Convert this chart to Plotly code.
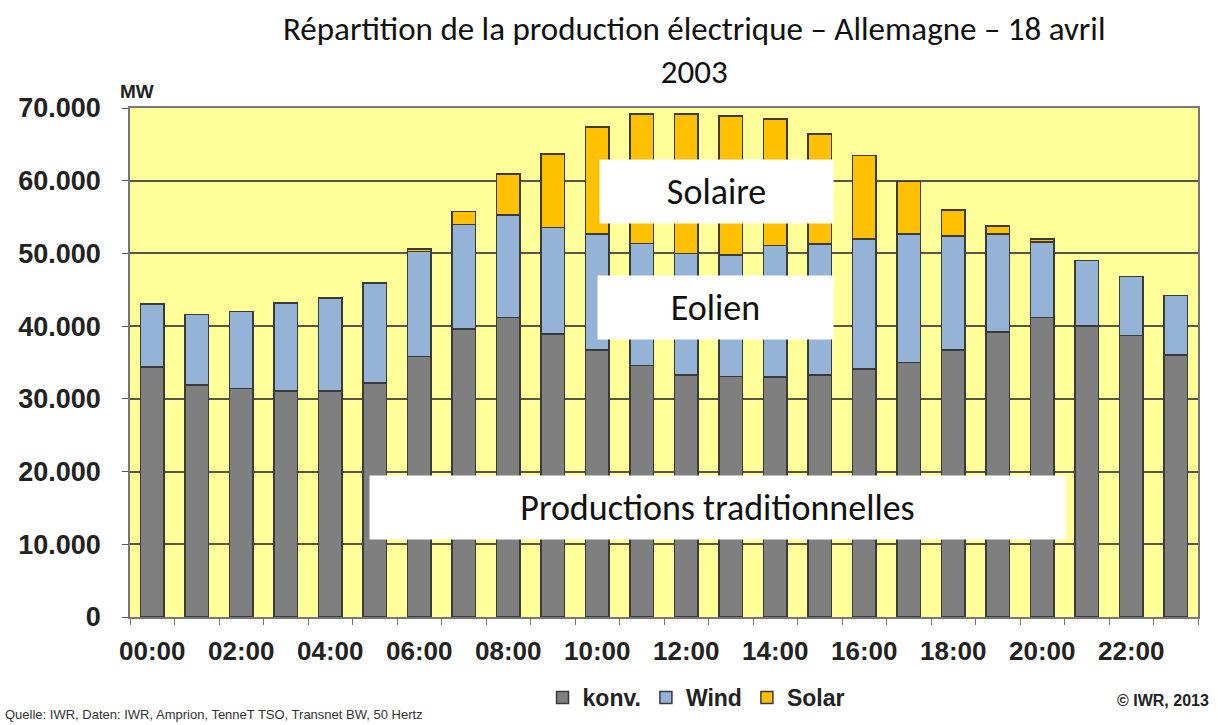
import plotly.graph_objects as go

hours = list(range(24))
tick_positions = [0, 2, 4, 6, 8, 10, 12, 14, 16, 18, 20, 22]
tick_labels = ["00:00", "02:00", "04:00", "06:00", "08:00", "10:00",
               "12:00", "14:00", "16:00", "18:00", "20:00", "22:00"]

konv = [34400, 31900, 31450, 31100, 31100, 32200, 35800, 39600, 41200, 38900, 36700, 34600,
        33300, 33100, 33000, 33300, 34100, 35000, 36700, 39200, 41200, 40000, 38700, 36000]
wind = [8650, 9700, 10550, 12100, 12800, 13700, 14500, 14400, 14100, 14700, 16000, 16800,
        16700, 16700, 18100, 18000, 17900, 17700, 15700, 13500, 10400, 9000, 8100, 8200]
solar = [0, 0, 0, 0, 0, 0, 300, 1800, 5600, 10100, 14700, 17800,
         19200, 19100, 17400, 15100, 11500, 7200, 3600, 1100, 400, 0, 0, 0]

y_ticks = [0, 10000, 20000, 30000, 40000, 50000, 60000, 70000]

title_text = "Répartition de la production électrique – Allemagne – 18 avril<br>2003"
source_text = "Quelle: IWR, Daten: IWR, Amprion, TenneT TSO, Transnet BW, 50 Hertz"
copyright_text = "© IWR, 2013"

outline = dict(color="#3a3a3a", width=1.5)
fig = go.Figure()
fig.add_trace(go.Bar(x=hours, y=konv, name="konv.", marker=dict(color="#7f7f7f", line=outline)))
fig.add_trace(go.Bar(x=hours, y=wind, name="Wind", marker=dict(color="#95b3d7", line=outline)))
fig.add_trace(go.Bar(x=hours, y=solar, name="Solar", marker=dict(color="#ffc000", line=outline)))

bold_font = "Liberation Sans"
text_font = "Carlito, Lato, Open Sans, sans-serif"
PH = 509.0  # plot height in px

fig.update_layout(
    width=1218, height=725,
    barmode="stack", bargap=0.48,
    separators=",.",
    paper_bgcolor="white", plot_bgcolor="#ffff99",
    margin=dict(l=130, r=20, t=108, b=108, autoexpand=False),
    legend=dict(orientation="h", x=0.53, xanchor="center", y=-(676 - 617) / PH, yanchor="top",
                traceorder="normal",
                font=dict(family=bold_font, size=23, color="#222", weight="bold"),
                itemwidth=30, tracegroupgap=0),
    showlegend=True,
)
fig.update_xaxes(range=[-0.5, 23.5], tickmode="array", tickvals=tick_positions, ticktext=tick_labels,
                 tickfont=dict(family=bold_font, size=26, color="#222", weight="bold"),
                 ticks="", ticklabelstandoff=10,
                 showgrid=False, showline=True, linecolor="#777", linewidth=1.5, mirror=True,
                 minor=dict(tickmode="array", tickvals=[h - 0.5 for h in hours] + [23.5],
                            ticks="outside", ticklen=6, tickcolor="#777", showgrid=False))
fig.update_yaxes(range=[0, 70000], tickmode="array", tickvals=y_ticks, tickformat=",d",
                 tickfont=dict(family=bold_font, size=27, color="#222", weight="bold"),
                 ticks="outside", ticklen=6, tickcolor="#555", ticklabelstandoff=16,
                 showgrid=True, gridcolor="#555548", gridwidth=1.5,
                 showline=True, linecolor="#777", linewidth=1.5, mirror=True, zeroline=False)

def box(text, x, y, w):
    fig.add_annotation(x=x, y=y, xref="x", yref="y", text=text, showarrow=False,
                       bgcolor="white", width=w, height=61,
                       font=dict(family=text_font, size=36, color="#111"))

box("Solaire", 12.68, 58500, 231)
box("Eolien", 12.66, 42560, 233)
box("Productions traditionnelles", 12.70, 15060, 693)

fig.add_annotation(x=(694 - 130) / 1068, y=1 + (108 - 50) / PH, xref="paper", yref="paper",
                   text=title_text, showarrow=False, yanchor="middle",
                   font=dict(family=text_font, size=33, color="#111"))

fig.add_annotation(x=-0.011, y=1.008, xref="paper", yref="paper", text="MW", showarrow=False,
                   xanchor="left", yanchor="bottom",
                   font=dict(family=bold_font, size=19, color="#222", weight="bold"))
fig.add_annotation(x=-0.119, y=-(714 - 617) / PH, xref="paper", yref="paper", text=source_text,
                   showarrow=False, xanchor="left", yanchor="middle",
                   font=dict(family=bold_font, size=13, color="#333"))
fig.add_annotation(x=1.012, y=-(700 - 617) / PH, xref="paper", yref="paper", text=copyright_text,
                   showarrow=False, xanchor="right", yanchor="middle",
                   font=dict(family=bold_font, size=16, color="#222", weight="bold"))

fig.write_html("out.html", config={"displayModeBar": False},
               post_script="document.body.style.margin='0px';")
